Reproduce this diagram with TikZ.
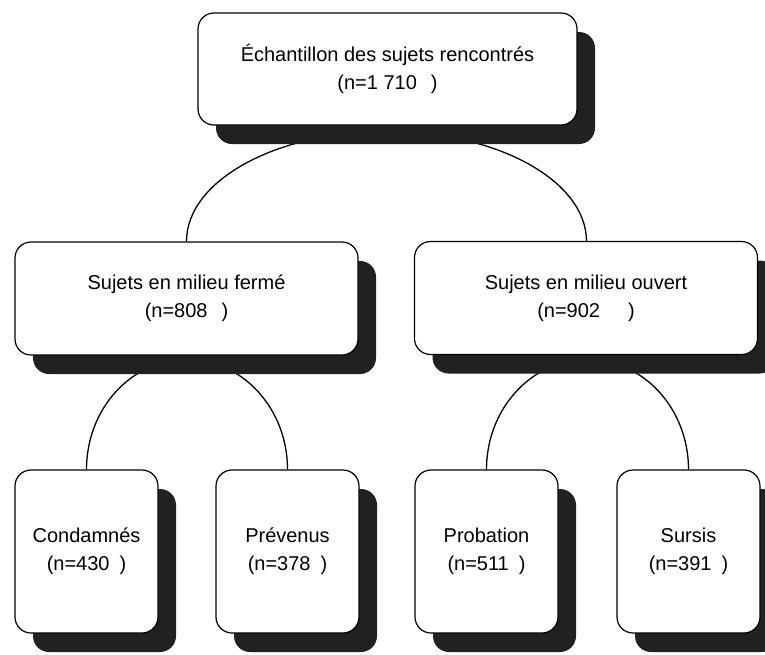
\documentclass[tikz,border=0pt]{standalone}
\usepackage{xcolor}
\usepackage{tikz}
\usepackage{fontspec}
\setmainfont{Liberation Sans}
\usetikzlibrary{shadows,backgrounds}

\begin{document}
\begin{tikzpicture}[x=1pt,y=-1pt]
			\tikzstyle{sample} = [draw, line width=1.2pt, rounded corners=16pt, fill=white, align=center, font=\fontsize{20}{28}\selectfont, drop shadow={shadow xshift=18pt, shadow yshift=-19pt, opacity=1, fill=black!87}]
			\tikzstyle{group} = [sample, minimum width=343pt, minimum height=113pt]
			\tikzstyle{subgroup} = [sample, minimum width=143pt, minimum height=163pt]
			\tikzset{link/.style = {line width=1.3pt}}
			\useasboundingbox (0,0) rectangle (765,654);
			
			\node[sample, minimum width=379pt, minimum height=112pt](total) at (387.5,69) {Échantillon des sujets rencontrés\\(n=1 710\hspace{.7em})};
			
			\node[group](ferme) at (186.5,298.5) {Sujets en milieu fermé\\(n=808\hspace{.7em})};
			\node[group](ouvert) at (586,298) {Sujets en milieu ouvert\\(n=902\hspace{1.4em})};
			
			\node[subgroup](condamnes) at (86.5,551.5) {Condamnés\\(n=430\hspace{.5em})};
			\node[subgroup](prevenus) at (287.5,551.5) {Prévenus\\(n=378\hspace{.5em})};
			\node[subgroup](probation) at (486.5,551.5) {Probation\\(n=511\hspace{.5em})};
			\node[subgroup](sursis) at (688.5,551.5) {Sursis\\(n=391\hspace{.5em})};
			
			\begin{scope}[on background layer]
			\draw[link](ferme.north) arc[start angle=180, end angle=360, x radius=200, y radius=110];
			\draw[link](condamnes.north) arc[start angle=180, end angle=360, x radius=100.5, y radius=110];
			\draw[link](probation.north) arc[start angle=180, end angle=360, x radius=101, y radius=110];
			\end{scope}
			
			\end{tikzpicture}
\end{document}
